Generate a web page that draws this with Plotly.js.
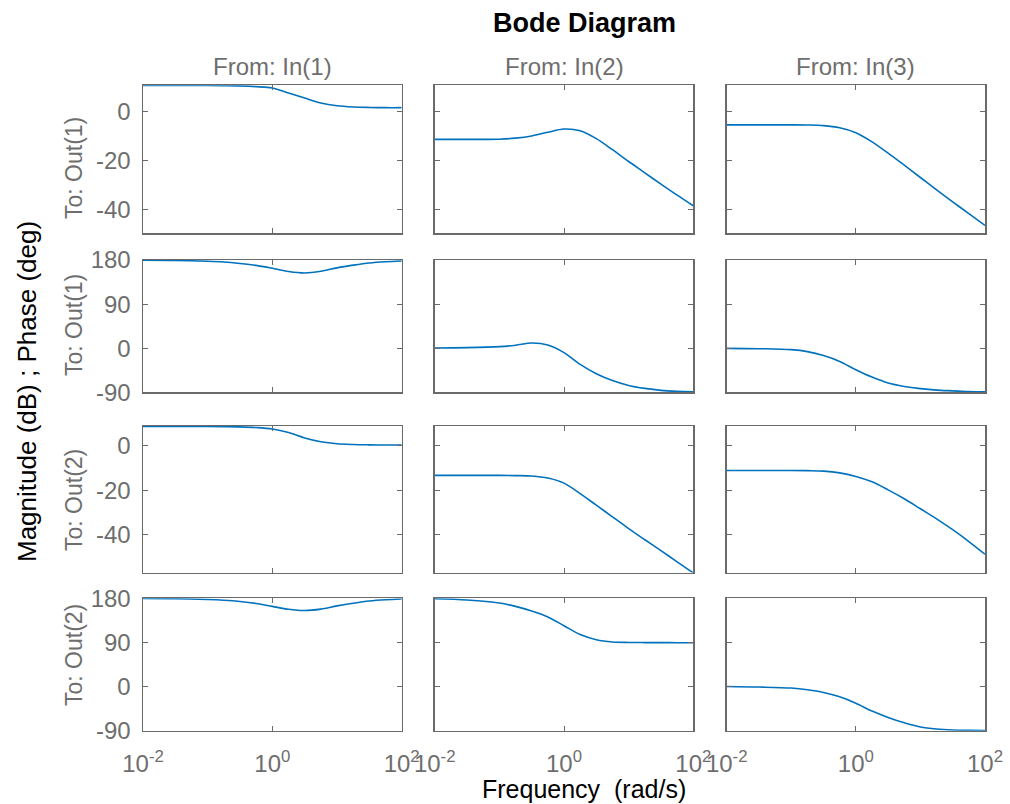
<!DOCTYPE html>
<html>
<head>
<meta charset="utf-8">
<script src="https://cdn.plot.ly/plotly-3.0.1.min.js"></script>
<style>html,body{margin:0;padding:0;background:#fff;}#plot{width:1010px;height:804px;}</style>
</head>
<body>
<div id="plot"></div>
<script>
// ---------- data ----------
const freq = [0.01, 0.0316, 0.1, 0.178, 0.316, 0.562, 1, 1.78, 3.16, 5.62, 10, 17.8, 31.6, 56.2, 100];

// Out(1) magnitude (dB)
const mag_o1_i1 = [10.6, 10.6, 10.6, 10.55, 10.45, 10.15, 9.6, 7.6, 5.5, 3.5, 2.4, 1.9, 1.7, 1.6, 1.6];
const mag_o1_i2 = [-11.3, -11.3, -11.25, -10.8, -9.9, -8.4, -7.1, -7.8, -11.0, -15.5, -20.3, -24.9, -29.5, -34.0, -38.3];
const mag_o1_i3 = [-5.4, -5.4, -5.4, -5.45, -5.7, -6.6, -8.6, -12.3, -16.9, -21.8, -26.8, -31.8, -36.7, -41.5, -46.3];
// Out(1) phase (deg)
const ph_o1_i1 = [179.5, 179, 177.5, 176, 173, 169, 163, 156.5, 153.5, 157, 164, 169.5, 174, 176.5, 178];
const ph_o1_i2 = [0.5, 1.2, 3.2, 6, 10.5, 6.5, -9, -33, -52, -66, -76, -82, -86, -88, -89];
const ph_o1_i3 = [-0.3, -1, -3, -7, -15, -27, -44, -59, -71, -78, -82.5, -85.5, -87, -88.5, -89];
// Out(2) magnitude (dB)
const mag_o2_i1 = [8.6, 8.6, 8.6, 8.55, 8.45, 8.15, 7.5, 5.9, 3.5, 1.8, 0.9, 0.55, 0.4, 0.3, 0.3];
const mag_o2_i2 = [-13.3, -13.3, -13.3, -13.4, -13.6, -14.5, -16.8, -21.5, -26.7, -31.9, -37.2, -42.2, -47.1, -52.1, -57.1];
const mag_o2_i3 = [-11.1, -11.1, -11.1, -11.2, -11.4, -12.2, -13.8, -16.2, -19.8, -23.8, -28.3, -32.8, -37.7, -43.0, -48.7];
// Out(2) phase (deg)
const ph_o2_i1 = [179.5, 179, 177.5, 176, 173.5, 169.5, 163.5, 157.5, 155, 158, 164.5, 170, 174.5, 177, 178.5];
const ph_o2_i2 = [179, 176.5, 170.5, 163.5, 154, 142, 124, 106, 95.5, 91, 90, 89.7, 89.6, 89.5, 89.5];
const ph_o2_i3 = [0, -1, -3, -6.5, -12, -21, -34, -50, -63, -74, -82.5, -86.5, -88.5, -89.3, -89.6];

const inputLabels = ['From: In(1)', 'From: In(2)', 'From: In(3)'];
const outputLabels = ['To: Out(1)', 'To: Out(1)', 'To: Out(2)', 'To: Out(2)'];
const xTickVals = [0.01, 1, 100];
const xTickText = ['10<sup>-2</sup>', '10<sup>0</sup>', '10<sup>2</sup>'];
const magTickVals = [-40, -20, 0];
const magTickText = ['-40', '-20', '0'];
const phaseTickVals = [-90, 0, 90, 180];
const phaseTickText = ['-90', '0', '90', '180'];
const magRange1 = [-49.5, 10.7];
const magRange2 = [-56.9, 8.85];
const phaseRange = [-90, 180];

const rowsData = [
  [mag_o1_i1, mag_o1_i2, mag_o1_i3],
  [ph_o1_i1, ph_o1_i2, ph_o1_i3],
  [mag_o2_i1, mag_o2_i2, mag_o2_i3],
  [ph_o2_i1, ph_o2_i2, ph_o2_i3]
];
const rowTicks = [magTickVals, phaseTickVals, magTickVals, phaseTickVals];
const rowTickText = [magTickText, phaseTickText, magTickText, phaseTickText];
const rowRanges = [magRange1, phaseRange, magRange2, phaseRange];

// ---------- layout geometry (pixels) ----------
const W = 1010, H = 804;
const colL = [143, 434.7, 726.7], colR = [401.7, 693.3, 985];
const rowT = [85.3, 260, 426, 598.3], rowB = [233.3, 392.3, 572.5, 730.7];
const px = v => v / W, py = v => 1 - v / H;

const FONT = 'Liberation Sans, Arial, Helvetica, sans-serif';
const GRAY = '#6e6e6e';
const AXC = '#6a6a6a';
const BLUE = '#0072BD';

const traces = [];
const layout = {
  width: W, height: H,
  margin: {l: 0, r: 0, t: 0, b: 0, pad: 0},
  paper_bgcolor: '#fff', plot_bgcolor: '#fff',
  showlegend: false,
  font: {family: FONT, color: GRAY, size: 24},
  annotations: []
};

for (let r = 0; r < 4; r++) {
  for (let c = 0; c < 3; c++) {
    const k = r * 3 + c + 1;
    const xa = 'x' + (k === 1 ? '' : k), ya = 'y' + (k === 1 ? '' : k);
    traces.push({
      x: freq, y: rowsData[r][c], xaxis: xa, yaxis: ya,
      type: 'scatter', mode: 'lines',
      line: {color: BLUE, width: 1.6, shape: 'spline', smoothing: 0.9},
      hoverinfo: 'skip'
    });
    const common = {
      showline: true, linecolor: AXC, linewidth: 1.5, mirror: 'ticks',
      ticks: 'inside', ticklen: 5, tickwidth: 1, tickcolor: AXC,
      showgrid: false, zeroline: false, fixedrange: true,
      tickfont: {family: FONT, size: 24, color: GRAY}
    };
    layout['xaxis' + (k === 1 ? '' : k)] = Object.assign({}, common, {
      type: 'log', range: [-2, 2],
      domain: [px(colL[c]), px(colR[c])],
      anchor: ya,
      tickmode: 'array', tickvals: xTickVals, ticktext: xTickText,
      showticklabels: r === 3,
      ticklabelstandoff: 11
    });
    layout['yaxis' + (k === 1 ? '' : k)] = Object.assign({}, common, {
      range: rowRanges[r],
      domain: [py(rowB[r]), py(rowT[r])],
      anchor: xa,
      tickmode: 'array', tickvals: rowTicks[r], ticktext: rowTickText[r],
      showticklabels: c === 0,
      ticklabelstandoff: 6
    });
  }
}

// Column titles
for (let c = 0; c < 3; c++) {
  layout.annotations.push({
    text: inputLabels[c], xref: 'paper', yref: 'paper',
    x: px((colL[c] + colR[c]) / 2), y: py(66), xanchor: 'center', yanchor: 'middle',
    showarrow: false, font: {family: FONT, size: 24, color: GRAY}
  });
}
// Row labels
const rowLabelY = [168, 325, 500, 655];
for (let r = 0; r < 4; r++) {
  layout.annotations.push({
    text: outputLabels[r], xref: 'paper', yref: 'paper',
    x: px(74), y: py(rowLabelY[r]), xanchor: 'center', yanchor: 'middle',
    textangle: -90, showarrow: false, font: {family: FONT, size: 23, color: GRAY}
  });
}
// Title and axis labels
layout.annotations.push({
  text: '<b>Bode Diagram</b>', xref: 'paper', yref: 'paper',
  x: px(584), y: py(23), xanchor: 'center', yanchor: 'middle',
  showarrow: false, font: {family: FONT, size: 27, color: '#000'}
});
layout.annotations.push({
  text: 'Magnitude (dB) ; Phase (deg)', xref: 'paper', yref: 'paper',
  x: px(27), y: py(392), xanchor: 'center', yanchor: 'middle',
  textangle: -90, showarrow: false, font: {family: FONT, size: 26, color: '#000'}
});
layout.annotations.push({
  text: 'Frequency &nbsp;(rad/s)', xref: 'paper', yref: 'paper',
  x: px(584), y: py(789), xanchor: 'center', yanchor: 'middle',
  showarrow: false, font: {family: FONT, size: 25, color: '#000'}
});

Plotly.newPlot('plot', traces, layout, {staticPlot: true, displayModeBar: false});
</script>
</body>
</html>
